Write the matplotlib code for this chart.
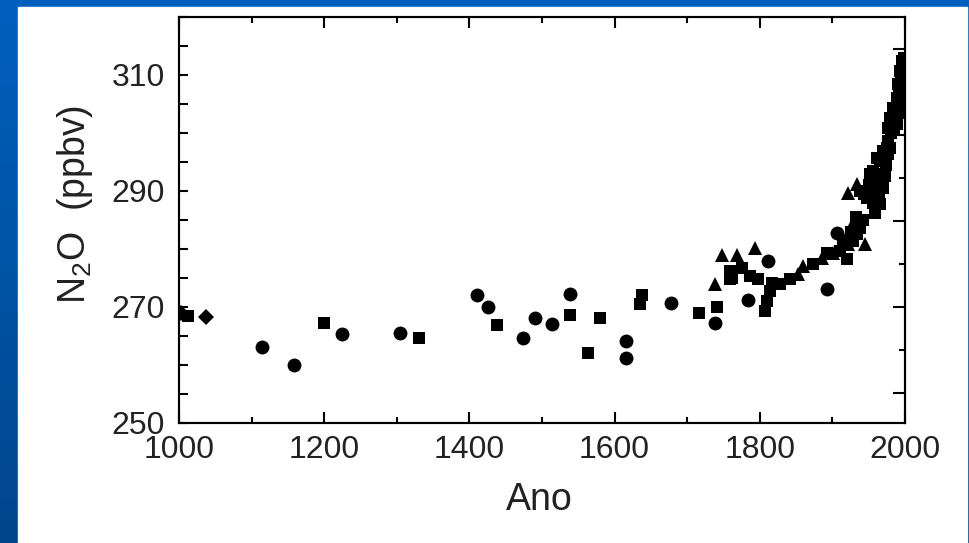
import numpy as np
import matplotlib.pyplot as plt
from matplotlib.patches import Rectangle
from matplotlib.colors import LinearSegmentedColormap
from matplotlib.ticker import MultipleLocator, NullFormatter

plt.rcParams['font.family'] = ['Liberation Sans', 'DejaVu Sans']
plt.rcParams['mathtext.fontset'] = 'custom'
plt.rcParams['mathtext.rm'] = 'Liberation Sans'
plt.rcParams['mathtext.default'] = 'regular'

# ice core / atmospheric N2O
circ_year = [1114, 1158, 1225, 1304, 1410, 1426, 1474, 1490, 1514, 1539,
             1616, 1616, 1678, 1738, 1784, 1811, 1893, 1906]
circ_ppb = [263.1, 260.0, 265.3, 265.5, 272.1, 270.0, 264.7, 268.1, 267.1, 272.2,
            264.1, 261.2, 270.7, 267.2, 271.2, 277.9, 273.1, 282.8]

sq_year = [1012, 1200, 1331, 1438, 1539, 1563, 1580, 1635, 1638, 1716,
           1741, 1762, 1759, 1759, 1775, 1787, 1798, 1817, 1814, 1810,
           1807, 1828, 1842, 1873, 1893, 1910, 1920, 1928, 1934, 1938,
           1938, 1948, 1956, 1959, 1966, 1968, 1972, 1956, 1966, 1977,
           1961, 1966, 1952, 1970, 1959, 1970, 1976, 1977, 1979, 1983,
           1985, 1989, 1990, 1993, 1996, 1997, 1997, 1996, 1993, 1989,
           1981, 1975, 1962, 1964, 1950, 1944, 1974, 1980, 1985, 1987,
           1992, 1994, 1998, 1999, 1998, 1995, 1991, 1915, 1925, 1932,
           1942, 1957, 1953]
sq_ppb = [268.4, 267.2, 264.7, 266.9, 268.6, 262.1, 268.1, 270.5, 272.1, 269.0,
          270.0, 275.0, 276.2, 274.8, 276.7, 275.3, 274.8, 274.1, 272.8, 271.0,
          269.3, 274.0, 274.8, 277.4, 279.3, 279.7, 278.3, 281.4, 282.6, 283.6,
          290.0, 288.8, 287.9, 286.2, 287.8, 291.2, 292.6, 293.4, 295.2, 296.4,
          295.7, 292.9, 292.9, 290.5, 287.8, 296.9, 298.6, 300.9, 302.6, 304.3,
          303.0, 306.0, 308.4, 310.7, 312.4, 311.9, 309.5, 307.2, 305.5, 301.6,
          300.0, 297.5, 290.0, 289.0, 291.0, 289.5, 294.5, 297.5, 300.5, 304.0,
          307.5, 309.0, 313.0, 310.5, 308.0, 304.0, 303.5, 281.5, 283.0, 285.5,
          285.0, 289.0, 291.5]

tri_year = [1738, 1748, 1768, 1793, 1853, 1860, 1885, 1901, 1921, 1928,
            1934, 1921, 1945]
tri_ppb = [274.0, 279.0, 279.0, 280.2, 275.7, 277.1, 278.4, 279.3, 280.9, 284.5,
           291.2, 289.7, 280.9]

dia_year = [1003, 1037]
dia_ppb = [269.0, 268.3]

# right-hand ticks (other scale, no labels), in ppbv units
right_major = [255.2, 270.0, 284.8, 299.7, 314.5]
right_minor = [262.6, 277.4, 292.2, 307.1]

W, H = 969, 543
fig = plt.figure(figsize=(W / 100, H / 100), dpi=100)

# blue slide frame + white panel
bg = fig.add_axes([0, 0, 1, 1], zorder=-10)
cmap = LinearSegmentedColormap.from_list('frame', ['#0060BE', '#00468C'])
bg.imshow(np.linspace(0, 1, 256).reshape(-1, 1), cmap=cmap, aspect='auto',
          extent=[0, 1, 0, 1], origin='upper')
bg.add_patch(Rectangle((18 / W, 0), (967 - 18) / W, (H - 7) / H, color='white'))
bg.set_xlim(0, 1)
bg.set_ylim(0, 1)
bg.axis('off')

ax = fig.add_axes([179 / W, 1 - 423 / H, (905 - 179) / W, (423 - 17) / H])
ax.set_facecolor('none')

ax.plot(sq_year, sq_ppb, 's', color='black', ms=9, mew=0)
ax.plot(circ_year, circ_ppb, 'o', color='black', ms=10, mew=0)
ax.plot(tri_year, tri_ppb, '^', color='black', ms=10, mew=0)
ax.plot(dia_year, dia_ppb, 'D', color='black', ms=8.5, mew=0)

ax.set_xlim(1000, 2000)
ax.set_ylim(250, 320)
ax.set_xticks([1000, 1200, 1400, 1600, 1800, 2000])
ax.xaxis.set_minor_locator(MultipleLocator(100))
ax.set_yticks([250, 270, 290, 310])
ax.yaxis.set_minor_locator(MultipleLocator(5))

for s in ax.spines.values():
    s.set_linewidth(1.5)

ax.tick_params(axis='x', which='both', direction='in', top=True, bottom=True,
               width=1.5, labelsize=23, pad=9, labelcolor='#222222')
ax.tick_params(axis='x', which='major', length=7.7)
ax.tick_params(axis='x', which='minor', length=4)
ax.tick_params(axis='y', which='both', direction='in', left=True, right=False,
               width=1.5, length=6.5, labelsize=23, pad=10, labelcolor='#222222')

ax2 = ax.twinx()
ax2.set_ylim(250, 320)
ax2.set_yticks(right_major)
ax2.set_yticks(right_minor, minor=True)
ax2.yaxis.set_major_formatter(NullFormatter())
ax2.tick_params(axis='y', which='both', direction='in', width=1.5)
ax2.tick_params(axis='y', which='major', length=9)
ax2.tick_params(axis='y', which='minor', length=4)
for s in ax2.spines.values():
    s.set_linewidth(1.5)

fig.text(539 / W, 1 - 510 / H, 'Ano', fontsize=27, ha='center', va='baseline',
         color='#222222')
fig.text(85 / W, 1 - 204 / H, 'N$_2$O  (ppbv)', fontsize=27, rotation=90,
         rotation_mode='anchor', ha='center', va='baseline', color='#222222')

fig.savefig('out.png', dpi=100)
